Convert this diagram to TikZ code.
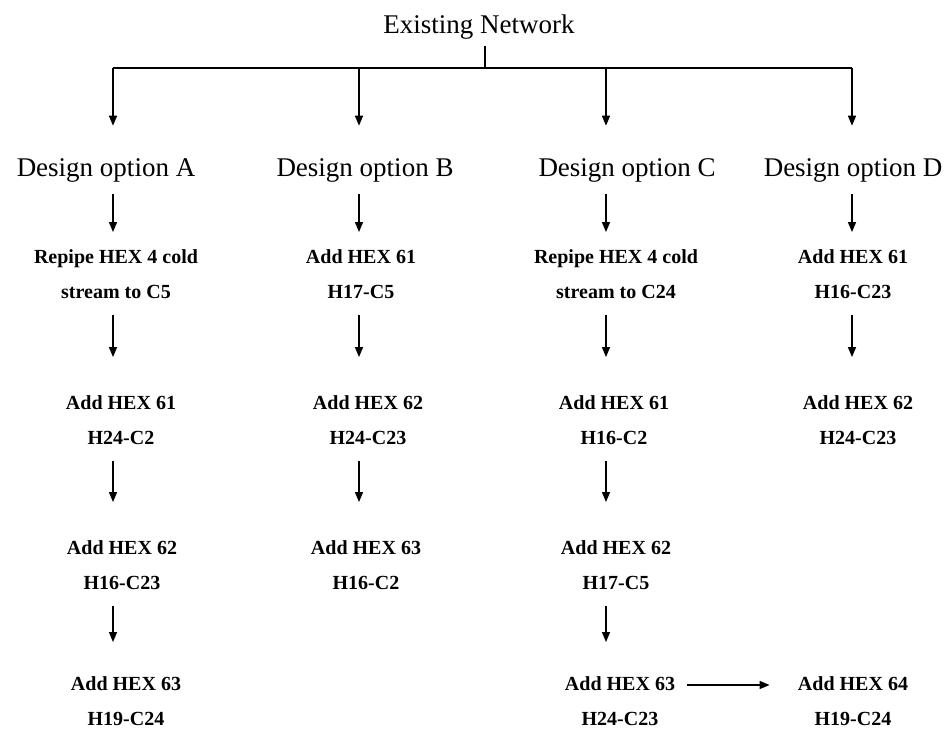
\documentclass[tikz,border=0pt]{standalone}
\usepackage{fontspec}
\setmainfont{Liberation Serif}
\usetikzlibrary{arrows.meta}
\begin{document}
\begin{tikzpicture}[x=0.5pt,y=-0.5pt,
  head/.style={inner sep=0pt, font=\fontsize{13.5}{16}\selectfont},
  item/.style={inner sep=0pt, align=center, font=\bfseries\fontsize{10}{17.5}\selectfont},
  arr/.style={line width=0.7pt, -{Triangle[length=5pt,width=4pt]}},
  ln/.style={line width=0.7pt},
  vdown/.style={arr, shorten <=8pt, shorten >=19pt},
  topdown/.style={arr, shorten <=6pt, shorten >=8.5pt}]
\useasboundingbox[fill=white] (0,0) rectangle (944,731);
% columns
\coordinate (cA) at (113,0);
\coordinate (cB) at (359,0);
\coordinate (cC) at (606,0);
\coordinate (cD) at (852,0);
\coordinate (bus) at (485,68);
% nodes
\node[head] (en) at (479,27) {Existing Network};
\node[head] (dA) at (106,170) {Design option A};
\node[head] (dB) at (365,170) {Design option B};
\node[head] (dC) at (627,170) {Design option C};
\node[head] (dD) at (853,170) {Design option D};
\node[item] (a1) at (116,274) {Repipe HEX 4 cold\\stream to C5};
\node[item] (b1) at (361,274) {Add HEX 61\\H17-C5};
\node[item] (c1) at (616,274) {Repipe HEX 4 cold\\stream to C24};
\node[item] (d1) at (853,274) {Add HEX 61\\H16-C23};
\node[item] (a2) at (121,420) {Add HEX 61\\H24-C2};
\node[item] (b2) at (368,420) {Add HEX 62\\H24-C23};
\node[item] (c2) at (614,420) {Add HEX 61\\H16-C2};
\node[item] (d2) at (858,420) {Add HEX 62\\H24-C23};
\node[item] (a3) at (122,565) {Add HEX 62\\H16-C23};
\node[item] (b3) at (366,565) {Add HEX 63\\H16-C2};
\node[item] (c3) at (616,565) {Add HEX 62\\H17-C5};
\node[item] (a4) at (126,701) {Add HEX 63\\H19-C24};
\node[item] (c4) at (620,701) {Add HEX 63\\H24-C23};
\node[item] (d4) at (853,701) {Add HEX 64\\H19-C24};
% bus
\draw[ln] ([yshift=-3pt]en.south -| bus) -- (bus);
\draw[ln] (bus -| cA) -- (bus -| cD);
\draw[arr, shorten >=16pt] (bus -| cA) -- (dA.north -| cA);
\draw[arr, shorten >=16pt] (bus -| cB) -- (dB.north -| cB);
\draw[arr, shorten >=16pt] (bus -| cC) -- (dC.north -| cC);
\draw[arr, shorten >=16pt] (bus -| cD) -- (dD.north -| cD);
% design -> row 1
\draw[topdown] (dA.south -| cA) -- (a1.north -| cA);
\draw[topdown] (dB.south -| cB) -- (b1.north -| cB);
\draw[topdown] (dC.south -| cC) -- (c1.north -| cC);
\draw[topdown] (dD.south -| cD) -- (d1.north -| cD);
% row 1 -> row 2
\draw[vdown] (a1.south -| cA) -- (a2.north -| cA);
\draw[vdown] (b1.south -| cB) -- (b2.north -| cB);
\draw[vdown] (c1.south -| cC) -- (c2.north -| cC);
\draw[vdown] (d1.south -| cD) -- (d2.north -| cD);
% row 2 -> row 3
\draw[vdown] (a2.south -| cA) -- (a3.north -| cA);
\draw[vdown] (b2.south -| cB) -- (b3.north -| cB);
\draw[vdown] (c2.south -| cC) -- (c3.north -| cC);
% row 3 -> row 4
\draw[vdown, shorten >=17pt] (a3.south -| cA) -- (a4.north -| cA);
\draw[vdown, shorten >=17pt] (c3.south -| cC) -- (c4.north -| cC);
% horizontal
\draw[arr, shorten <=6pt, shorten >=14pt] ([yshift=8pt]c4.east) -- ([yshift=8pt]d4.west);
\end{tikzpicture}
\end{document}
